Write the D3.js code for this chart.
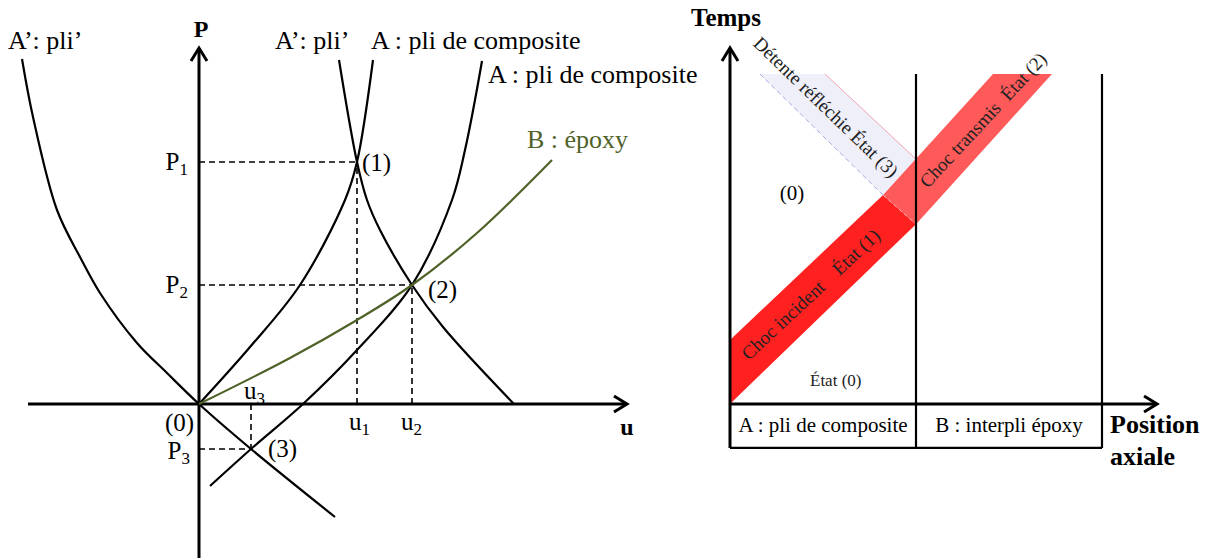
<!DOCTYPE html>
<html>
<head>
<meta charset="utf-8">
<script src="https://cdn.jsdelivr.net/npm/d3@7"></script>
<style>
  body { margin: 0; background: #fff; }
  svg { display: block; font-family: "Liberation Serif", "Times New Roman", serif; }
</style>
</head>
<body>
<svg id="chart" width="1210" height="558"></svg>
<script>
// ---- left diagram : P(u) curves ----
const aPrimeLeft = [[-1.77, 3.45], [-1.66, 2.87], [-1.42, 1.94], [-1.19, 1.47], [-0.99, 1.11],
  [-0.62, 0.61], [-0.32, 0.31], [0, 0], [0.52, -0.45], [1.36, -1.13]];
const aFromOrigin = [[0, 0], [0.51, 0.57], [1.01, 1.19], [1.46, 2.04], [1.58, 2.42], [1.74, 3.44]];
const aPrimeShock = [[1.40, 3.44], [1.58, 2.42], [1.68, 2.04], [1.81, 1.74], [2.13, 1.19], [2.44, 0.77], [3.15, 0]];
const aShifted = [[0.11, -0.82], [0.52, -0.45], [1.04, 0], [1.58, 0.54], [2.13, 1.19],
  [2.53, 2.04], [2.66, 2.54], [2.83, 3.43]];
const epoxy = [[0, 0], [0.91, 0.46], [1.58, 0.84], [2.13, 1.19], [2.78, 1.71], [3.53, 2.44]];

// intersection states (u, P)
const stateNames = ["(1)", "(2)", "(3)"];
const stateU = [1.58, 2.13, 0.52];
const stateP = [2.42, 1.19, -0.45];

// ---- right diagram : time / axial position, bands as (position, time) ----
const layerNames = ["A : pli de composite", "B : interpli époxy"];
const layerBounds = [0, 1, 2];
const incidentBand = [[0, 0], [0, 0.194], [0.823, 0.633], [1, 0.545]];
const transmittedBand = [[0.823, 0.633], [1.414, 1], [1.731, 1], [1, 0.545]];
const reflectedBand = [[0.161, 1], [0.511, 1], [1, 0.742], [0.823, 0.633]];

const svg = d3.select("#chart");
const ink = "#000";
const green = "#4f6228";

// ===== left =====
const xL = d3.scaleLinear().domain([-1.71, 4.28]).range([28, 627]);
const yL = d3.scaleLinear().domain([-1.54, 3.56]).range([558, 48]);
const left = svg.append("g");

const curve = d3.line().x(d => xL(d[0])).y(d => yL(d[1])).curve(d3.curveCatmullRom.alpha(0.5));

// dashed projections
stateU.forEach((u, i) => {
  left.append("line")
    .attr("x1", xL(0)).attr("x2", xL(u))
    .attr("y1", yL(stateP[i])).attr("y2", yL(stateP[i]))
    .attr("stroke", ink).attr("stroke-width", 1.6).attr("stroke-dasharray", "6,4");
  left.append("line")
    .attr("x1", xL(u)).attr("x2", xL(u))
    .attr("y1", yL(0)).attr("y2", yL(stateP[i]))
    .attr("stroke", ink).attr("stroke-width", 1.6).attr("stroke-dasharray", "6,4");
});

// axes
left.append("line")
  .attr("x1", xL(-1.71)).attr("x2", xL(4.28)).attr("y1", yL(0)).attr("y2", yL(0))
  .attr("stroke", ink).attr("stroke-width", 3);
left.append("line")
  .attr("x1", xL(0)).attr("x2", xL(0)).attr("y1", yL(-1.54)).attr("y2", yL(3.56))
  .attr("stroke", ink).attr("stroke-width", 3);
left.append("path")
  .attr("d", `M${xL(0) - 8},${yL(3.56) + 13}L${xL(0)},${yL(3.56)}L${xL(0) + 8},${yL(3.56) + 13}`)
  .attr("fill", "none").attr("stroke", ink).attr("stroke-width", 3);
left.append("path")
  .attr("d", `M${xL(4.28) - 13},${yL(0) - 8}L${xL(4.28)},${yL(0)}L${xL(4.28) - 13},${yL(0) + 8}`)
  .attr("fill", "none").attr("stroke", ink).attr("stroke-width", 3);

// curves
[aPrimeLeft, aFromOrigin, aPrimeShock, aShifted].forEach(c => {
  left.append("path").attr("d", curve(c))
    .attr("fill", "none").attr("stroke", ink).attr("stroke-width", 2.2);
});
left.append("path").attr("d", curve(epoxy))
  .attr("fill", "none").attr("stroke", green).attr("stroke-width", 2.2);

// labels
const lt = (x, y, txt, opts = {}) => {
  const t = left.append("text").attr("x", x).attr("y", y)
    .attr("font-size", opts.size || 25)
    .attr("text-anchor", opts.anchor || "start")
    .attr("font-weight", opts.bold ? "bold" : "normal")
    .attr("fill", opts.color || ink)
    .text(txt);
  if (opts.sub) {
    t.append("tspan").attr("font-size", 17).attr("dy", 5).text(opts.sub);
  }
  return t;
};
lt(xL(0) + 2, 37, "P", { bold: true, anchor: "middle", size: 24 });
lt(xL(4.28), 435, "u", { bold: true, anchor: "middle", size: 24 });
lt(8, 49, "A’: pli’", { size: 26 });
lt(275, 49, "A’: pli’", { size: 26 });
lt(371, 49, "A : pli de composite", { size: 26 });
lt(488, 83, "A : pli de composite", { size: 26 });
lt(527, 148, "B : époxy", { color: green, size: 26 });

lt(188, yL(stateP[0]) + 8, "P", { anchor: "end", sub: "1" });
lt(188, yL(stateP[1]) + 8, "P", { anchor: "end", sub: "2" });
lt(190, yL(stateP[2]) + 10, "P", { anchor: "end", sub: "3" });
lt(xL(stateU[0]) - 8, 430, "u", { sub: "1" });
lt(xL(stateU[1]) - 11, 430, "u", { sub: "2" });
lt(xL(stateU[2]) - 7, 399, "u", { sub: "3" });
lt(165, 431, "(0)");
lt(xL(stateU[0]) + 5, yL(stateP[0]) + 9, stateNames[0]);
lt(xL(stateU[1]) + 16, yL(stateP[1]) + 13, stateNames[1]);
lt(xL(stateU[2]) + 17, yL(stateP[2]) + 8, stateNames[2]);

// ===== right =====
const xR = d3.scaleLinear().domain([0, 2]).range([730, 1102]);
const tR = d3.scaleLinear().domain([0, 1]).range([404, 74]);
const right = svg.append("g");
const poly = d3.line().x(d => xR(d[0])).y(d => tR(d[1])).curve(d3.curveLinearClosed);

right.append("path").attr("d", poly(reflectedBand)).attr("fill", "#efeff9");
right.append("path").attr("d", poly(transmittedBand)).attr("fill", "#ff5a5a");
right.append("path").attr("d", poly(incidentBand)).attr("fill", "#ff2020");

// wave fronts of the reflected band
right.append("line")
  .attr("x1", xR(reflectedBand[0][0])).attr("y1", tR(reflectedBand[0][1]))
  .attr("x2", xR(reflectedBand[3][0])).attr("y2", tR(reflectedBand[3][1]))
  .attr("stroke", "#a9a9e6").attr("stroke-width", 1).attr("stroke-dasharray", "5,3");
right.append("line")
  .attr("x1", xR(reflectedBand[1][0])).attr("y1", tR(reflectedBand[1][1]))
  .attr("x2", xR(reflectedBand[2][0])).attr("y2", tR(reflectedBand[2][1]))
  .attr("stroke", "#f2a4b4").attr("stroke-width", 1);
right.append("line")
  .attr("x1", xR(incidentBand[2][0])).attr("y1", tR(incidentBand[2][1]))
  .attr("x2", xR(incidentBand[3][0])).attr("y2", tR(incidentBand[3][1]))
  .attr("stroke", "#f8b0b0").attr("stroke-width", 1).attr("stroke-dasharray", "4,3");

// layer boundaries and table
layerBounds.slice(1).forEach(b => {
  right.append("line")
    .attr("x1", xR(b)).attr("x2", xR(b)).attr("y1", tR(1)).attr("y2", tR(-0.133))
    .attr("stroke", ink).attr("stroke-width", 2.2);
});
right.append("line")
  .attr("x1", xR(0)).attr("x2", xR(2)).attr("y1", tR(-0.133)).attr("y2", tR(-0.133))
  .attr("stroke", ink).attr("stroke-width", 2.4);

// axes
right.append("line")
  .attr("x1", xR(0)).attr("x2", xR(0)).attr("y1", tR(-0.133)).attr("y2", tR(1.079))
  .attr("stroke", ink).attr("stroke-width", 3);
right.append("line")
  .attr("x1", xR(0)).attr("x2", xR(2.296)).attr("y1", tR(0)).attr("y2", tR(0))
  .attr("stroke", ink).attr("stroke-width", 3);
right.append("path")
  .attr("d", `M${xR(0) - 8},${tR(1.079) + 13}L${xR(0)},${tR(1.079)}L${xR(0) + 8},${tR(1.079) + 13}`)
  .attr("fill", "none").attr("stroke", ink).attr("stroke-width", 3);
right.append("path")
  .attr("d", `M${xR(2.296) - 13},${tR(0) - 8}L${xR(2.296)},${tR(0)}L${xR(2.296) - 13},${tR(0) + 8}`)
  .attr("fill", "none").attr("stroke", ink).attr("stroke-width", 3);

// text
const rt = (x, y, txt, size, opts = {}) => right.append("text")
  .attr("x", x).attr("y", y)
  .attr("font-size", size)
  .attr("text-anchor", opts.anchor || "start")
  .attr("font-weight", opts.bold ? "bold" : "normal")
  .attr("fill", opts.color || ink)
  .attr("dominant-baseline", opts.central ? "central" : null)
  .attr("transform", opts.rotate ? `rotate(${opts.rotate},${x},${y})` : null)
  .text(txt);

rt(726, 26, "Temps", 25, { bold: true, anchor: "middle" });
rt(1110, 433, "Position", 26, { bold: true });
rt(1110, 465, "axiale", 26, { bold: true });
layerNames.forEach((n, i) => {
  rt((xR(layerBounds[i]) + xR(layerBounds[i + 1])) / 2, 432, n, 21, { anchor: "middle" });
});
rt(792, 200, "(0)", 21, { anchor: "middle" });
rt(810, 386, "État (0)", 17, { color: "#222" });
rt(783, 320, "Choc incident", 19, { anchor: "middle", central: true, rotate: -43, color: "#222" });
rt(856, 252, "État (1)", 19, { anchor: "middle", central: true, rotate: -43, color: "#222" });
rt(983, 120, "Choc transmis  État (2)", 19, { anchor: "middle", central: true, rotate: -47, color: "#222" })
  .style("white-space", "pre");
rt(826, 107, "Détente réfléchie État (3)", 19, { anchor: "middle", central: true, rotate: 44, color: "#222" });
</script>
</body>
</html>
